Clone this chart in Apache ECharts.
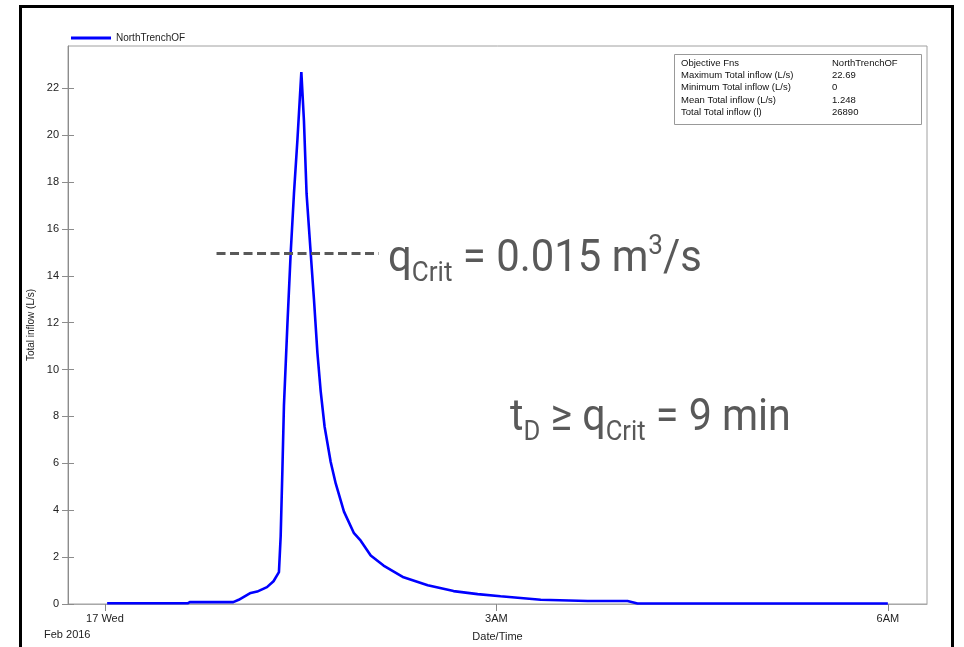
<!DOCTYPE html>
<html>
<head>
<meta charset="utf-8">
<script src="https://cdn.jsdelivr.net/npm/echarts@6/dist/echarts.min.js"></script>
<style>
  html, body { margin: 0; padding: 0; background: #fff; }
  #chart { width: 964px; height: 647px; }
</style>
</head>
<body>
<div id="chart"></div>
<script>
  // 时间：从 2016-02-17 00:00 起的分钟数
  const timeMin = [1, 38, 39, 59, 61.5, 67, 70, 74.5, 77.5, 80, 80.8, 81.6, 82.3, 83.9, 85.4, 86.9, 88.5, 90.3,
    91.5, 92.7, 94.6, 96.1, 97.7, 99.2, 101, 103.8, 106.1, 109.9, 114.5, 117.6, 122.2, 128.1, 137.3, 148.4,
    160.3, 171.4, 181.9, 200.4, 222, 240.3, 244.9, 360]
  // Total inflow (L/s)
  const inflow = [0.03, 0.03, 0.08, 0.08, 0.18, 0.47, 0.53, 0.72, 0.97, 1.36, 2.9, 5.76, 8.47, 11.95, 14.97, 17.5,
    19.8, 22.69, 20.6, 17.5, 14.97, 13.0, 10.7, 9.07, 7.56, 6.06, 5.14, 3.94, 3.02, 2.7, 2.07, 1.64, 1.14, 0.8,
    0.55, 0.42, 0.33, 0.18, 0.13, 0.13, 0.02, 0.02]
  const yTicks = [0, 2, 4, 6, 8, 10, 12, 14, 16, 18, 20, 22]
  const xTicks = [0, 180, 360]
  const xTickLabels = ['17 Wed', '3AM', '6AM']
  const statNames = ['Objective Fns', 'Maximum Total inflow (L/s)', 'Minimum Total inflow (L/s)', 'Mean Total inflow (L/s)', 'Total Total inflow (l)']
  const statValues = ['NorthTrenchOF', '22.69', '0', '1.248', '26890']
  const qCrit = 14.96

  const myChart = echarts.init(document.getElementById('chart'), null, { renderer: 'canvas' })
  const axisFont = 'Liberation Sans, Arial, sans-serif'
  const bigColor = '#595959'

  // 大号注释文字：逐段测量宽度后拼接（下标/上标）
  const ctx = document.createElement('canvas').getContext('2d')
  function richLine (x, baseline, pieces, sx) {
    let cx = 0
    const children = pieces.map(p => {
      const font = p.size + 'px Roboto'
      ctx.font = font
      ctx.textBaseline = 'middle'
      const w = ctx.measureText(p.t).width
      const off = ctx.measureText('x').actualBoundingBoxDescent
      const el = {
        type: 'text',
        x: cx,
        y: (p.dy || 0) - off,
        style: { text: p.t, font: font, fill: bigColor, verticalAlign: 'middle' }
      }
      cx += w
      return el
    })
    return { type: 'group', x: x, y: baseline, scaleX: sx, children: children }
  }

  const statsBox = {
    type: 'group',
    left: 674,
    top: 54,
    children: [
      { type: 'rect', shape: { x: 0.5, y: 0.5, width: 247, height: 70 }, style: { fill: '#fff', stroke: '#999', lineWidth: 1 } }
    ].concat(statNames.map((n, i) => ({
      type: 'text', x: 7, y: 9 + i * 12.4,
      style: { text: n, fontSize: 9.5, fontFamily: axisFont, fill: '#111', verticalAlign: 'middle' }
    }))).concat(statValues.map((v, i) => ({
      type: 'text', x: 158, y: 9 + i * 12.4,
      style: { text: v, fontSize: 9.5, fontFamily: axisFont, fill: '#111', verticalAlign: 'middle' }
    })))
  }

  const option = {
    animation: false,
    backgroundColor: '#fff',
    grid: { left: 68, right: 37, top: 46, bottom: 39.5, show: true, borderColor: '#a0a0a0', borderWidth: 1 },
    legend: {
      data: ['NorthTrenchOF'],
      left: 66,
      top: 28,
      icon: 'rect',
      itemWidth: 40,
      itemHeight: 3,
      textStyle: { fontSize: 10, fontFamily: axisFont, color: '#222' }
    },
    xAxis: {
      type: 'value',
      min: -17,
      max: 378,
      name: 'Date/Time',
      nameLocation: 'middle',
      nameGap: 27,
      nameTextStyle: { fontSize: 11, fontFamily: axisFont, color: '#222' },
      splitLine: { show: false },
      axisLine: { onZero: false, lineStyle: { color: '#a8a8a8' } },
      axisTick: { length: 7, lineStyle: { color: '#888' }, customValues: xTicks },
      axisLabel: {
        customValues: xTicks,
        margin: 9,
        fontSize: 11,
        fontFamily: axisFont,
        color: '#222',
        formatter: v => xTickLabels[xTicks.indexOf(v)]
      }
    },
    yAxis: [{
      type: 'value',
      min: 0,
      max: 23.8,
      name: 'Total inflow (L/s)',
      nameLocation: 'middle',
      nameGap: 24,
      nameTextStyle: { fontSize: 10, fontFamily: axisFont, color: '#222' },
      splitLine: { show: false },
      axisLine: { show: true, onZero: false, lineStyle: { color: '#8c8c8c' } },
      axisTick: { show: true, length: 6, lineStyle: { color: '#8c8c8c' }, customValues: yTicks },
      axisLabel: { customValues: yTicks, margin: 9, fontSize: 11, fontFamily: axisFont, color: '#222' }
    }, {
      // 只画向内的刻度
      type: 'value',
      min: 0,
      max: 23.8,
      position: 'left',
      splitLine: { show: false },
      axisLine: { show: false, onZero: false },
      axisTick: { show: true, inside: true, length: 6, lineStyle: { color: '#8c8c8c' }, customValues: yTicks },
      axisLabel: { show: false }
    }],
    series: [{
      name: 'NorthTrenchOF',
      type: 'line',
      yAxisIndex: 0,
      showSymbol: false,
      symbol: 'none',
      color: '#0000ff',
      lineStyle: { width: 2.6, color: '#0000ff' },
      data: timeMin.map((t, i) => [t, inflow[i]]),
      markLine: {
        silent: true,
        symbol: 'none',
        label: { show: false },
        lineStyle: { color: bigColor, width: 3, type: [9, 4.5] },
        data: [[{ coord: [51.3, qCrit] }, { coord: [126, qCrit] }]]
      }
    }],
    graphic: [
      { type: 'rect', shape: { x: 20.5, y: 6.5, width: 932, height: 700 }, style: { fill: 'none', stroke: '#000', lineWidth: 3 }, z: 100 },
      { type: 'text', left: 44, top: 629, style: { text: 'Feb 2016', fontSize: 11, fontFamily: axisFont, fill: '#222' } },
      statsBox,
      richLine(388, 271, [
        { t: 'q', size: 45 },
        { t: 'Crit', size: 28, dy: 10 },
        { t: ' = 0.015 m', size: 45 },
        { t: '3', size: 28, dy: -17 },
        { t: '/s', size: 45 }
      ], 0.93),
      richLine(510, 430, [
        { t: 't', size: 45 },
        { t: 'D', size: 28, dy: 10 },
        { t: ' \u2265 q', size: 45 },
        { t: 'Crit', size: 28, dy: 10 },
        { t: ' = 9 min', size: 45 }
      ], 0.915)
    ]
  }

  myChart.setOption(option)
</script>
</body>
</html>
